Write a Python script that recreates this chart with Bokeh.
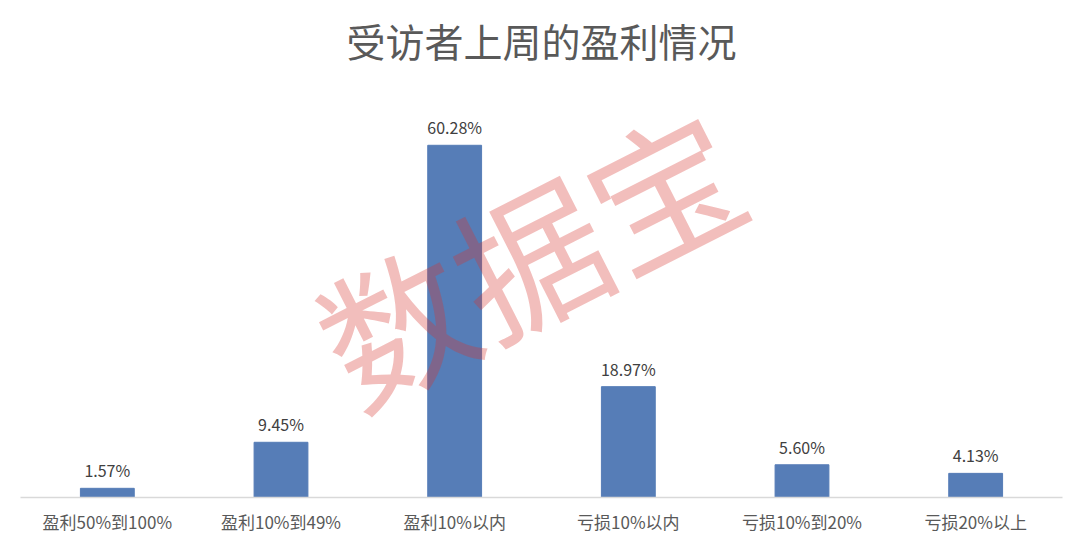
import numpy as np
from bokeh.plotting import figure
from bokeh.models import ColumnDataSource, Range1d, FixedTicker, Label, LabelSet
from bokeh.core.properties import value
from bokeh.embed import file_html
from bokeh.resources import INLINE

categories = ["盈利50%到100%", "盈利10%到49%", "盈利10%以内", "亏损10%以内", "亏损10%到20%", "亏损20%以上"]
values = [1.57, 9.45, 60.28, 18.97, 5.60, 4.13]
value_labels = ["1.57%", "9.45%", "60.28%", "18.97%", "5.60%", "4.13%"]
title_text = "受访者上周的盈利情况"
watermark = "数据宝"

xs = list(range(len(categories)))
src = ColumnDataSource(dict(x=xs, top=values, lab=value_labels))

FONT = "Noto Sans CJK SC"
Y_END = 70 * 497 / 409

p = figure(width=1064, height=536, output_backend="svg", toolbar_location=None,
           x_range=Range1d(-0.5, len(categories) - 0.5), y_range=Range1d(0, Y_END),
           min_border_left=20, min_border_right=2, min_border_top=0, min_border_bottom=32)
p.outline_line_color = None
p.grid.visible = False
p.yaxis.visible = False

p.vbar(x="x", top="top", width=0.31, source=src, fill_color="#567DB7", line_color="#567DB7")

p.add_layout(LabelSet(x="x", y="top", text="lab", source=src, text_align="center",
                      text_baseline="bottom", y_offset=6, text_font=value(FONT),
                      text_font_size=value("16px"), text_color=value("#404040")))

ax = p.xaxis[0]
ax.ticker = FixedTicker(ticks=xs)
ax.major_label_overrides = {i: c for i, c in enumerate(categories)}
ax.major_tick_line_color = None
ax.minor_tick_line_color = None
ax.axis_line_color = "#d9d9d9"
ax.axis_line_width = 1.5
ax.major_label_text_font = FONT
ax.major_label_text_font_size = "17px"
ax.major_label_text_color = "#595959"
ax.major_label_standoff = 5

# title drawn inside the top of the frame
p.add_layout(Label(x=(len(categories) - 1) / 2, y=78.25, text=title_text, text_align="center",
                   text_baseline="middle", text_font=FONT, text_font_size="39px",
                   text_color="#595959"))

p.add_layout(Label(x=2.42, y=41.9, text=watermark, angle=0.47, text_align="center",
                   text_baseline="middle", text_font=FONT, text_font_size="150px",
                   text_color="#D6342E", text_alpha=0.32))

open("out.html", "w").write(file_html(p, INLINE))
